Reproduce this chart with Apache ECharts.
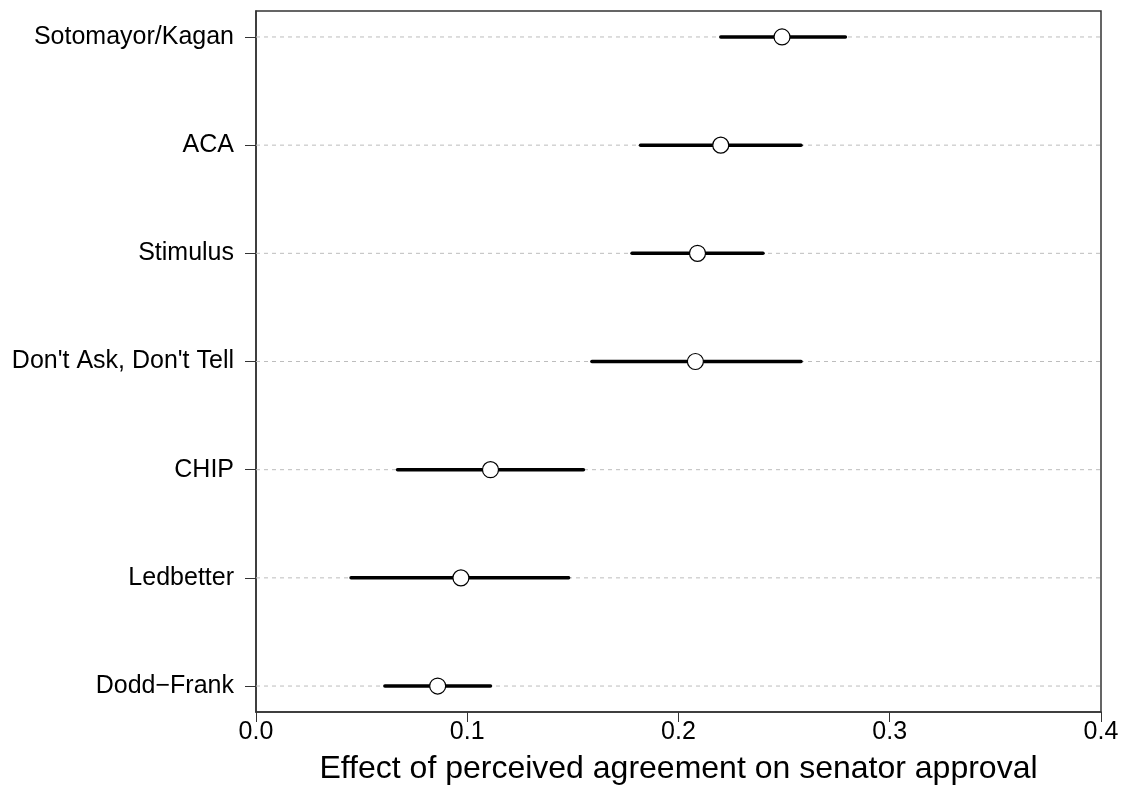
<!DOCTYPE html>
<html>
<head>
<meta charset="utf-8">
<script src="https://cdn.jsdelivr.net/npm/echarts@6/dist/echarts.min.js"></script>
<style>
  html, body { margin: 0; padding: 0; background: #fff; }
  #chart { width: 1121px; height: 787px; }
</style>
</head>
<body>
<div id="chart"></div>
<script>
var chart = echarts.init(document.getElementById('chart'))

// policies, top to bottom
var policies = ['Sotomayor/Kagan', 'ACA', 'Stimulus', "Don't Ask, Don't Tell", 'CHIP', 'Ledbetter', 'Dodd\u2212Frank']
var estimate = [0.249, 0.220, 0.209, 0.208, 0.111, 0.097, 0.086]
var lower = [0.220, 0.182, 0.178, 0.159, 0.067, 0.045, 0.061]
var upper = [0.279, 0.258, 0.240, 0.258, 0.155, 0.148, 0.111]
var xTicks = [0, 0.1, 0.2, 0.3, 0.4]

var rows = policies.map(function(p, i) { return i + 1 })
var font = 'Liberation Sans, Arial, sans-serif'

var guideData = rows.map(function(r) { return [r] })
var barData = rows.map(function(r, i) { return [lower[i], upper[i], r] })
var pointData = rows.map(function(r, i) { return [estimate[i], r] })

var option = {
  backgroundColor: '#fff',
  animation: false,
  grid: {
    left: 256,
    right: 20,
    top: 11,
    bottom: 75,
    containLabel: false,
    outerBoundsMode: 'none',
    show: true,
    borderColor: '#333',
    borderWidth: 1.5
  },
  xAxis: {
    type: 'value',
    min: 0,
    max: 0.4,
    interval: 0.1,
    name: 'Effect of perceived agreement on senator approval',
    nameLocation: 'middle',
    nameGap: 41,
    nameTextStyle: { fontFamily: font, fontSize: 32, color: '#000' },
    axisLine: { show: true, lineStyle: { color: '#333', width: 1.5 } },
    axisTick: { show: true, inside: false, length: 10, lineStyle: { color: '#333', width: 1 } },
    axisLabel: {
      margin: 8,
      fontFamily: font,
      fontSize: 25,
      color: '#000',
      formatter: function(v) { return v.toFixed(1) }
    },
    splitLine: { show: false }
  },
  yAxis: {
    type: 'value',
    inverse: true,
    min: 0.76,
    max: 7.24,
    axisLine: { show: true, lineStyle: { color: '#333', width: 1.5 } },
    axisTick: { show: true, length: 11, customValues: rows, lineStyle: { color: '#333', width: 1 } },
    axisLabel: {
      margin: 22,
      customValues: rows,
      fontFamily: font,
      fontSize: 25,
      color: '#000',
      formatter: function(v) { return policies[Math.round(v) - 1] || '' }
    },
    splitLine: { show: false }
  },
  series: [
    {
      type: 'custom',
      z: 1,
      silent: true,
      data: guideData,
      encode: { y: 0 },
      renderItem: function(params, api) {
        var a = api.coord([xTicks[0], api.value(0)])
        var b = api.coord([xTicks[xTicks.length - 1], api.value(0)])
        return {
          type: 'line',
          shape: { x1: a[0], y1: a[1], x2: b[0], y2: b[1] },
          style: { stroke: '#bdbdbd', lineWidth: 1, lineDash: [4, 4] }
        }
      }
    },
    {
      type: 'custom',
      z: 2,
      data: barData,
      encode: { x: [0, 1], y: 2 },
      renderItem: function(params, api) {
        var a = api.coord([api.value(0), api.value(2)])
        var b = api.coord([api.value(1), api.value(2)])
        return {
          type: 'line',
          shape: { x1: a[0], y1: a[1], x2: b[0], y2: b[1] },
          style: { stroke: '#000', lineWidth: 3.5, lineCap: 'round' }
        }
      }
    },
    {
      type: 'scatter',
      z: 3,
      data: pointData,
      symbol: 'circle',
      symbolSize: 16,
      itemStyle: { color: '#fff', borderColor: '#000', borderWidth: 1.2, opacity: 1 }
    }
  ]
}

chart.setOption(option)
</script>
</body>
</html>
